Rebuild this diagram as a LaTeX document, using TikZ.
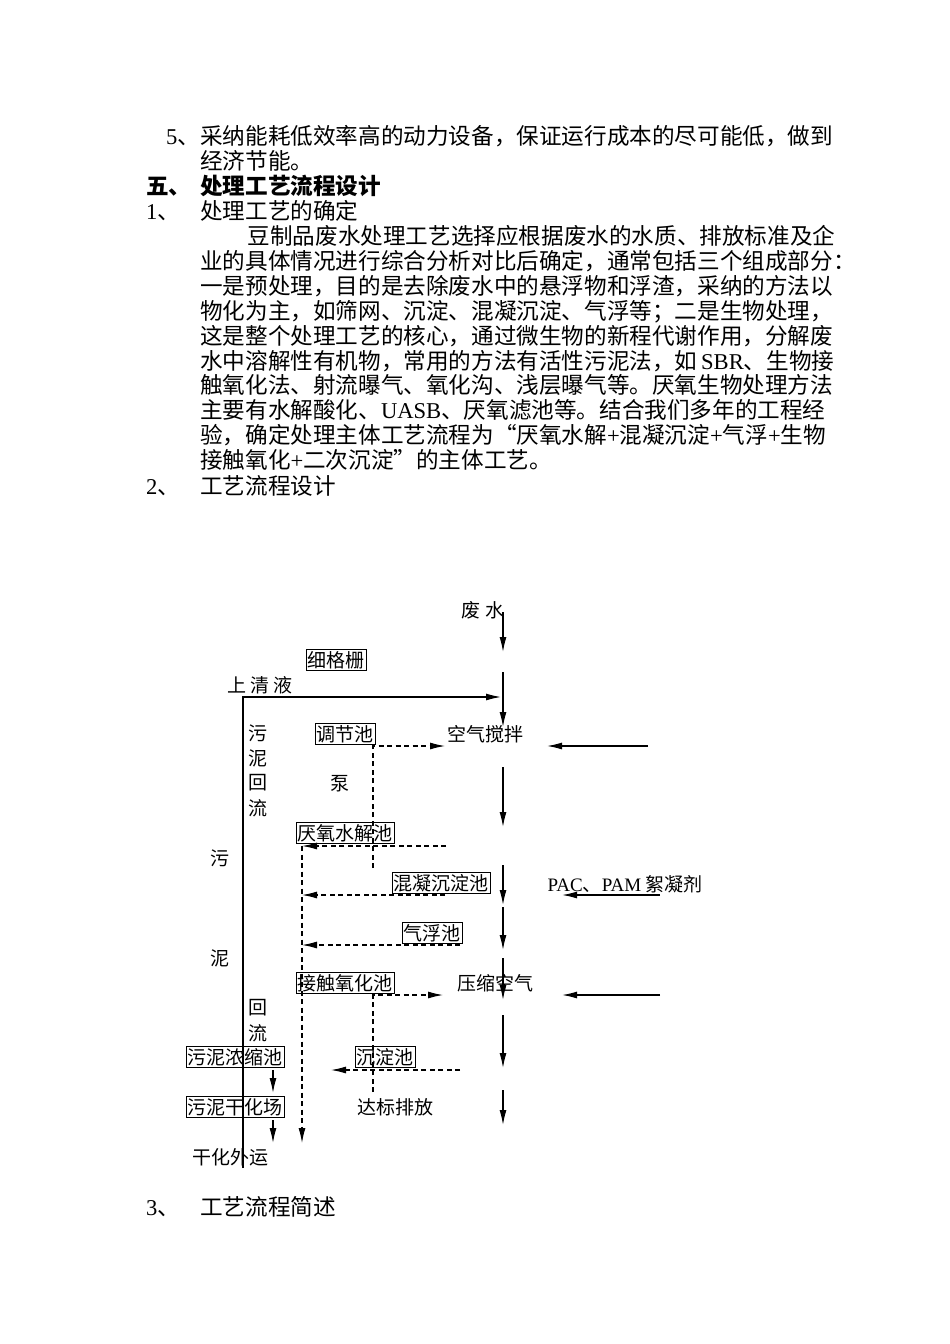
\documentclass[tikz,border=0pt]{standalone}
\usepackage{fontspec}
\setmainfont{Noto Sans CJK SC}
\newfontfamily\lat{Liberation Serif}
\usetikzlibrary{arrows.meta}

\tikzset{
  body/.style={font=\fontsize{22.6}{24.9}\selectfont, inner sep=0pt},
  lbl/.style={font=\fontsize{19}{22}\selectfont, inner sep=0pt},
  tank/.style={lbl, draw, line width=0.8pt, inner sep=1.5pt},
  flow/.style={-{Latex[length=15pt,width=7pt]}, line width=1.3pt},
  back/.style={flow, line width=1.1pt, dash pattern=on 5pt off 3.5pt},
}

\begin{document}
\begin{tikzpicture}[x=1pt, y=-1pt]
  \useasboundingbox (0,0) rectangle (950,1344);

  % text above the chart (multi-line nodes sit on their last baseline)
  \node (n5) at (166,144.5) [body, anchor=base west] {{\lat 5}、};
  \node (t5) at (200,169.4) [body, anchor=base west, align=left]
    {采纳能耗低效率高的动力设备，保证运行成本的尽可能低，做到\\经济节能。};
  \node (n6) at (146,194.5) [body, anchor=base west] {\bfseries 五、};
  \node (t6) at (200,194.5) [body, anchor=base west] {\bfseries 处理工艺流程设计};
  \node (n1) at (146,219.5) [body, anchor=base west] {{\lat 1}、};
  \node (t1) at (200,219.5) [body, anchor=base west] {处理工艺的确定};
  \node (par) at (200,468.6) [body, anchor=base west, align=left]
    {\hspace*{2.1em}豆制品废水处理工艺选择应根据废水的水质、排放标准及企\\
     业的具体情况进行综合分析对比后确定，通常包括三个组成部分：\\
     一是预处理，目的是去除废水中的悬浮物和浮渣，采纳的方法以\\
     物化为主，如筛网、沉淀、混凝沉淀、气浮等；二是生物处理，\\
     这是整个处理工艺的核心，通过微生物的新程代谢作用，分解废\\
     水中溶解性有机物，常用的方法有活性污泥法，如\,{\lat SBR}、生物接\\
     触氧化法、射流曝气、氧化沟、浅层曝气等。厌氧生物处理方法\\
     主要有水解酸化、{\lat UASB}、厌氧滤池等。结合我们多年的工程经\\
     验，确定处理主体工艺流程为“厌氧水解{\lat +}混凝沉淀{\lat +}气浮{\lat +}生物\\
     接触氧化{\lat +}二次沉淀”的主体工艺。};
  \node (n2) at (146,494.5) [body, anchor=base west] {{\lat 2}、};
  \node (t2) at (200,494.5) [body, anchor=base west] {工艺流程设计};
  \node (n3) at (146,1215.5) [body, anchor=base west] {{\lat 3}、};
  \node (t3) at (200,1215.5) [body, anchor=base west] {工艺流程简述};

  % chart
  \node (water) at (483,610) [lbl] {废\ 水};
  \node (grid) at (336,660) [tank] {细格栅};
  \node (clear) at (260,685) [lbl] {上\ 清\ 液};
  \node (adj) at (345,734) [tank] {调节池};
  \node (stir) at (485,734) [lbl] {空气搅拌};
  \node (pump) at (340,784) [lbl] {泵};
  \node (hyd) at (345,833) [tank] {厌氧水解池};
  \node (coag) at (441,883) [tank] {混凝沉淀池};
  \node (pac) at (625,884) [lbl] {{\lat PAC}、{\lat PAM} 絮凝剂};
  \node (flot) at (432,933) [tank] {气浮池};
  \node (cont) at (345,983) [tank] {接触氧化池};
  \node (comp) at (495,983) [lbl] {压缩空气};
  \node (thick) at (235,1057) [tank] {污泥浓缩池};
  \node (sed) at (385,1057) [tank] {沉淀池};
  \node (dry) at (235,1107) [tank] {污泥干化场};
  \node (clean) at (395,1107) [lbl] {达标排放};
  \node (haul) at (230,1157) [lbl] {干化外运};
  \foreach \ch [count=\i] in {污,泥,回,流}
    \node (ret\i) at (258,708+25*\i) [lbl] {\ch};
  \node (ret5) at (258,1008) [lbl] {回};
  \node (ret6) at (258,1033) [lbl] {流};
  \node (sl1) at (220,858) [lbl] {污};
  \node (sl2) at (220,958) [lbl] {泥};

  % main line
  \foreach \a/\b [count=\i] in {612/652, 672/727, 767/827, 865/905, 907/950, 958/1000, 1015/1068, 1090/1125} {
    \coordinate (m\i) at (503,\a);
    \coordinate (k\i) at (503,\b);
    \draw[flow] (m\i) -- (k\i);
  }

  % supernatant
  \coordinate (rb) at (243,1168);
  \coordinate (rt) at (501,697);
  \draw[flow] (rb) |- (rt);

  % feeds from the right
  \coordinate (f1) at (648,746);
  \coordinate (g1) at (547,746);
  \coordinate (f2) at (660,895);
  \coordinate (g2) at (562,895);
  \coordinate (f3) at (660,995);
  \coordinate (g3) at (562,995);
  \draw[flow] (f1) -- (g1);
  \draw[flow] (f2) -- (g2);
  \draw[flow] (f3) -- (g3);

  % dashed lines
  \coordinate (p1) at (373,868);
  \coordinate (q1) at (445,746);
  \draw[back] (p1) |- (q1);
  \coordinate (p2) at (373,1092);
  \coordinate (q2) at (443,995);
  \draw[back] (p2) |- (q2);
  \coordinate (h1) at (446,846);
  \coordinate (h2) at (302,846);
  \coordinate (h3) at (302,1143);
  \draw[back] (h1) -- (h2);
  \draw[back] (h2) -- (h3);
  \coordinate (c1) at (445,895);
  \coordinate (c2) at (302,895);
  \draw[back] (c1) -- (c2);
  \coordinate (a1) at (460,945);
  \coordinate (a2) at (302,945);
  \draw[back] (a1) -- (a2);
  \coordinate (s1) at (460,1070);
  \coordinate (s2) at (331,1070);
  \draw[back] (s1) -- (s2);

  % sludge line
  \coordinate (d1) at (273,1070);
  \coordinate (d2) at (273,1093);
  \coordinate (d3) at (273,1120);
  \coordinate (d4) at (273,1143);
  \draw[flow] (d1) -- (d2);
  \draw[flow] (d3) -- (d4);
\end{tikzpicture}
\end{document}
